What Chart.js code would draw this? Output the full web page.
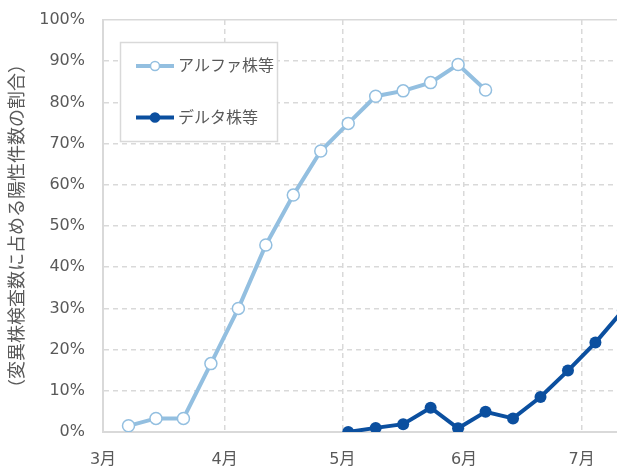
<!DOCTYPE html>
<html>
<head>
<meta charset="utf-8">
<script src="https://cdn.jsdelivr.net/npm/chart.js@4"></script>
<style>
  html, body { margin: 0; padding: 0; background: #fff; overflow: hidden; }
  canvas { display: block; }
</style>
</head>
<body>
<canvas id="grafico" width="617" height="466"></canvas>
<script>
// 変異株の割合（週ごと）
// x は 3月1日からの日数
const monthLabels = ["3月", "4月", "5月", "6月", "7月"];
const monthStarts = [0, 31, 61, 92, 122];

const alphaDays = [6.5, 13.5, 20.5, 27.5, 34.5, 41.5, 48.5, 55.5, 62.5, 69.5, 76.5, 83.5, 90.5, 97.5];
const alphaPct = [1.5, 3.3, 3.3, 16.6, 30.0, 45.4, 57.5, 68.2, 74.9, 81.5, 82.8, 84.8, 89.2, 83.0];

const deltaDays = [62.5, 69.5, 76.5, 83.5, 90.5, 97.5, 104.5, 111.5, 118.5, 125.5, 132.5];
const deltaPct = [0.0, 1.0, 1.9, 5.9, 0.9, 4.9, 3.3, 8.5, 14.9, 21.7, 29.5];

const yTicks = [0, 10, 20, 30, 40, 50, 60, 70, 80, 90, 100];

const ALPHA = "#93bfe0";
const DELTA = "#0b4f9f";
const GRID = "#d9d9d9";
const TEXT = "#595959";
const FONT = "'DejaVu Sans', 'Noto Sans CJK JP', sans-serif";

const pairs = (xs, ys) => xs.map((x, i) => ({ x: x, y: ys[i] }));

// 軸ラベルの自動余白をなくす
const noPad = s => { s.paddingLeft = 0; s.paddingRight = 0; s.paddingTop = 0; s.paddingBottom = 0; };

// 凡例（プロット内の枠）
const boxLegend = {
    id: "boxLegend",
    beforeDatasetsDraw(chart) {
        const c = chart.ctx;
        const x0 = 120, y0 = 42, w = 157, h = 99;
        c.save();
        c.fillStyle = "#fff";
        c.fillRect(x0, y0, w, h);
        c.strokeStyle = GRID;
        c.lineWidth = 1.5;
        c.strokeRect(x0 + 0.5, y0 + 0.5, w, h);

        const rows = [
            { label: "アルファ株等", color: ALPHA, fill: "#fff", y: 66 },
            { label: "デルタ株等", color: DELTA, fill: DELTA, y: 117.5 }
        ];
        rows.forEach(r => {
            c.strokeStyle = r.color;
            c.lineWidth = 4;
            c.beginPath();
            c.moveTo(136, r.y);
            c.lineTo(174, r.y);
            c.stroke();
            c.beginPath();
            c.arc(155, r.y, 4.5, 0, Math.PI * 2);
            c.fillStyle = r.fill;
            c.fill();
            c.lineWidth = 1.5;
            c.stroke();
            c.fillStyle = TEXT;
            c.font = "16px " + FONT;
            c.textBaseline = "middle";
            c.fillText(r.label, 178, r.y + 1);
        });
        c.restore();
    }
};

new Chart(document.getElementById("grafico"), {
    type: "line",
    data: {
        datasets: [{
            label: "アルファ株等",
            data: pairs(alphaDays, alphaPct),
            borderColor: ALPHA,
            borderWidth: 4,
            pointRadius: 6,
            pointBorderWidth: 1.5,
            pointBackgroundColor: "#fff",
            pointBorderColor: ALPHA,
            tension: 0
        }, {
            label: "デルタ株等",
            data: pairs(deltaDays, deltaPct),
            borderColor: DELTA,
            borderWidth: 4,
            pointRadius: 6,
            pointBorderWidth: 0,
            pointBackgroundColor: DELTA,
            pointBorderColor: DELTA,
            tension: 0
        }]
    },
    options: {
        responsive: false,
        animation: false,
        layout: { autoPadding: false, padding: { top: 20, right: 0, left: 0, bottom: 0 } },
        plugins: {
            legend: { display: false },
            tooltip: { enabled: false }
        },
        scales: {
            x: {
                type: "linear",
                min: 0,
                max: 131,
                afterBuildTicks: s => { s.ticks = monthStarts.map(v => ({ value: v })); },
                afterFit: s => { s.height = 34; noPad(s); },
                ticks: {
                    color: TEXT,
                    font: { family: FONT, size: 16 },
                    padding: 18,
                    maxRotation: 0,
                    autoSkip: false,
                    callback: v => monthLabels[monthStarts.indexOf(v)]
                },
                grid: { color: GRID, lineWidth: 1.5, drawTicks: false },
                border: { color: GRID, width: 2, dash: [5, 4] }
            },
            y: {
                min: 0,
                max: 100,
                afterBuildTicks: s => { s.ticks = yTicks.map(v => ({ value: v })); },
                afterFit: s => { s.width = 103; noPad(s); },
                ticks: {
                    color: TEXT,
                    font: { family: FONT, size: 16 },
                    padding: 18,
                    callback: v => v + "%"
                },
                grid: { color: GRID, lineWidth: 1.5, drawTicks: false },
                border: {
                    color: GRID,
                    width: 2,
                    dash: ctx => (ctx.tick && ctx.tick.value === 100) ? [] : [5, 4]
                },
                title: {
                    display: true,
                    text: "（変異株検査数に占める陽性件数の割合）",
                    color: TEXT,
                    font: { family: FONT, size: 18 },
                    padding: { top: 8, bottom: 0 }
                }
            }
        }
    },
    plugins: [boxLegend]
});
</script>
</body>
</html>
